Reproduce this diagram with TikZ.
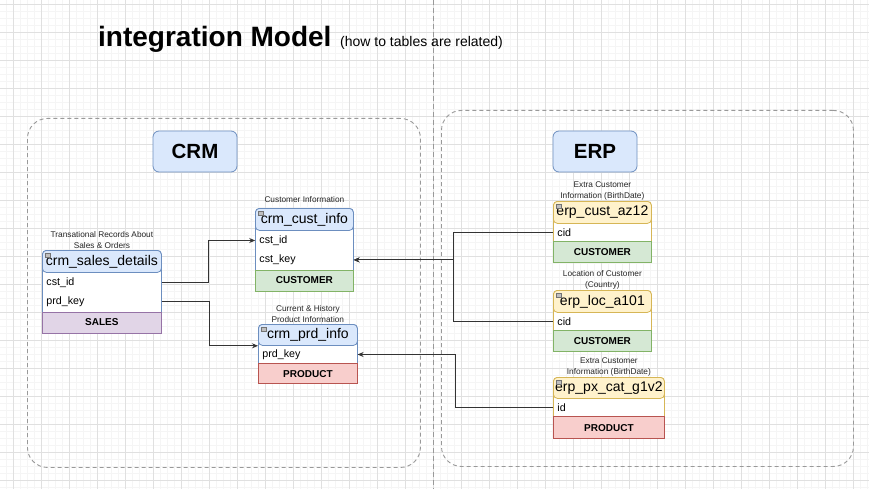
\documentclass[tikz,border=0pt]{standalone}
\usepackage{fontspec}
\setmainfont{Liberation Sans}
\usetikzlibrary{arrows.meta,positioning}

\definecolor{blueFill}{HTML}{DAE8FC}
\definecolor{blueLine}{HTML}{6C8EBF}
\definecolor{yellowFill}{HTML}{FFF2CC}
\definecolor{yellowLine}{HTML}{D6B656}
\definecolor{greenFill}{HTML}{D5E8D4}
\definecolor{greenLine}{HTML}{82B366}
\definecolor{redFill}{HTML}{F8CECC}
\definecolor{redLine}{HTML}{B85450}
\definecolor{purpleFill}{HTML}{E1D5E7}
\definecolor{purpleLine}{HTML}{9673A6}

\begin{document}
\begin{tikzpicture}[
  x=1pt, y=-1pt,
  area/.style={draw=black!40, dash pattern=on 4pt off 3pt, line width=0.9pt,
    rounded corners=20pt, anchor=north west, inner sep=0},
  zone/.style={draw=blueLine, fill=blueFill, rounded corners=6pt, line width=0.8pt,
    minimum width=84, minimum height=41, font=\fontsize{20.5}{24}\selectfont\bfseries},
  tbl/.style={draw=#1Line, fill=white, rounded corners=4pt, line width=0.8pt,
    anchor=north west, inner sep=0},
  head/.style={draw=#1Line, fill=#1Fill, rounded corners=4pt, line width=0.8pt,
    anchor=north, inner sep=0, minimum height=22, font=\fontsize{14}{16}\selectfont},
  field/.style={inner xsep=4pt, inner ysep=0, text width=#1pt-8pt, align=left,
    minimum height=19, font=\fontsize{10.7}{13}\selectfont},
  foot/.style={draw=#1Line, fill=#1Fill, line width=0.8pt, inner sep=0,
    minimum height=21, font=\fontsize{10}{12}\selectfont\bfseries},
  note/.style={align=center, inner sep=0, text=black!85,
    font=\fontsize{8.3}{11}\selectfont},
  link/.style={-{Stealth[length=6pt,width=5pt]}, draw=black!80, line width=0.9pt},
  minus/.style={draw=black!55, fill=black!25, line width=0.5pt}
]
\useasboundingbox (0,0) rectangle (869,489);
% grid
\fill[white] (0,0) rectangle (869,489);
\foreach \x in {6,13,...,869} \draw[black!4] (\x,0) -- (\x,489);
\foreach \y in {4,11,...,489} \draw[black!4] (0,\y) -- (869,\y);
\foreach \x in {13,41,...,869} \draw[black!12] (\x,0) -- (\x,489);
\foreach \y in {4,32,...,489} \draw[black!12] (0,\y) -- (869,\y);
\draw[black!40, dash pattern=on 5pt off 3pt] (433,0) -- (433,489);

\node[anchor=base west, inner sep=0, font=\fontsize{28}{32}\selectfont\bfseries]
  (title) at (98,47) {integration Model};
\node[anchor=base west, inner sep=0, font=\fontsize{14}{16}\selectfont]
  (subtitle) at (340,47) {(how to tables are related)};

\node[area, minimum width=393, minimum height=349] (crmArea) at (27,118) {};
\node[area, minimum width=412, minimum height=356] (erpArea) at (441,110) {};
\node[zone] (crmZone) at (195,151.5) {CRM};
\node[zone] (erpZone) at (595,151.5) {ERP};

% crm tables
\node[tbl=blue, minimum width=119, minimum height=81] (salesTbl) at (42,250) {};
\node[head=blue, minimum width=119] (salesHead) at (salesTbl.north) {crm\_sales\_details};
\node[field=119, below=0pt of salesHead] (salesCst) {cst\_id};
\node[field=119, below=0pt of salesCst] (salesPrd) {prd\_key};
\node[foot=purple, minimum width=119, below=0pt of salesPrd] (salesFoot) {SALES};
\node[note, above=1pt of salesTbl] (salesNote) {Transational Records About\\Sales \& Orders};

\node[tbl=blue, minimum width=98, minimum height=81] (custTbl) at (255,208) {};
\node[head=blue, minimum width=98] (custHead) at (custTbl.north) {crm\_cust\_info};
\node[field=98, below=0pt of custHead] (custId) {cst\_id};
\node[field=98, below=0pt of custId] (custKey) {cst\_key};
\node[foot=green, minimum width=98, below=0pt of custKey] (custFoot) {CUSTOMER};
\node[note, above=5pt of custTbl] (custNote) {Customer Information};

\node[tbl=blue, minimum width=99, minimum height=58] (prdTbl) at (258,324) {};
\node[head=blue, minimum width=99, minimum height=21] (prdHead) at (prdTbl.north) {crm\_prd\_info};
\node[field=99, minimum height=17, below=0pt of prdHead] (prdKey) {prd\_key};
\node[foot=red, minimum width=99, minimum height=20, below=0pt of prdKey] (prdFoot) {PRODUCT};
\node[note, above=1pt of prdTbl] (prdNote) {Current \& History\\Product Information};

% erp tables
\node[tbl=yellow, minimum width=98, minimum height=60] (azTbl) at (553,201) {};
\node[head=yellow, minimum width=98] (azHead) at (azTbl.north) {erp\_cust\_az12};
\node[field=98, minimum height=17, below=0pt of azHead] (azCid) {cid};
\node[foot=green, minimum width=98, below=0pt of azCid] (azFoot) {CUSTOMER};
\node[note, above=1pt of azTbl] (azNote) {Extra Customer\\Information (BirthDate)};

\node[tbl=yellow, minimum width=98, minimum height=60] (locTbl) at (553,290) {};
\node[head=yellow, minimum width=98] (locHead) at (locTbl.north) {erp\_loc\_a101};
\node[field=98, minimum height=17, below=0pt of locHead] (locCid) {cid};
\node[foot=green, minimum width=98, below=0pt of locCid] (locFoot) {CUSTOMER};
\node[note, above=1pt of locTbl] (locNote) {Location of Customer\\(Country)};

\node[tbl=yellow, minimum width=111, minimum height=60] (pxTbl) at (553,377) {};
\node[head=yellow, minimum width=111, minimum height=21] (pxHead) at (pxTbl.north) {erp\_px\_cat\_g1v2};
\node[field=111, minimum height=17, below=0pt of pxHead] (pxId) {id};
\node[foot=red, minimum width=111, minimum height=22, below=0pt of pxId] (pxFoot) {PRODUCT};
\node[note, above=1pt of pxTbl] (pxNote) {Extra Customer\\Information (BirthDate)};

\foreach \t in {salesHead,custHead,prdHead,azHead,locHead,pxHead}
  \draw[minus] ([shift={(3,3)}]\t.north west) rectangle ++(5,4);

\draw[link] (salesCst.east) -- ++(47,0) |- (custId.west);
\draw[link] (salesPrd.east) -- ++(48,0) |- (prdHead.south west);
\draw[link] (azCid.west) -- ++(-100,0) |- (custKey.east);
\draw[link] (locCid.west) -- ++(-100,0) |- (custKey.east);
\draw[link] (pxId.west) -- ++(-98,0) |- (prdKey.east);
\end{tikzpicture}
\end{document}
